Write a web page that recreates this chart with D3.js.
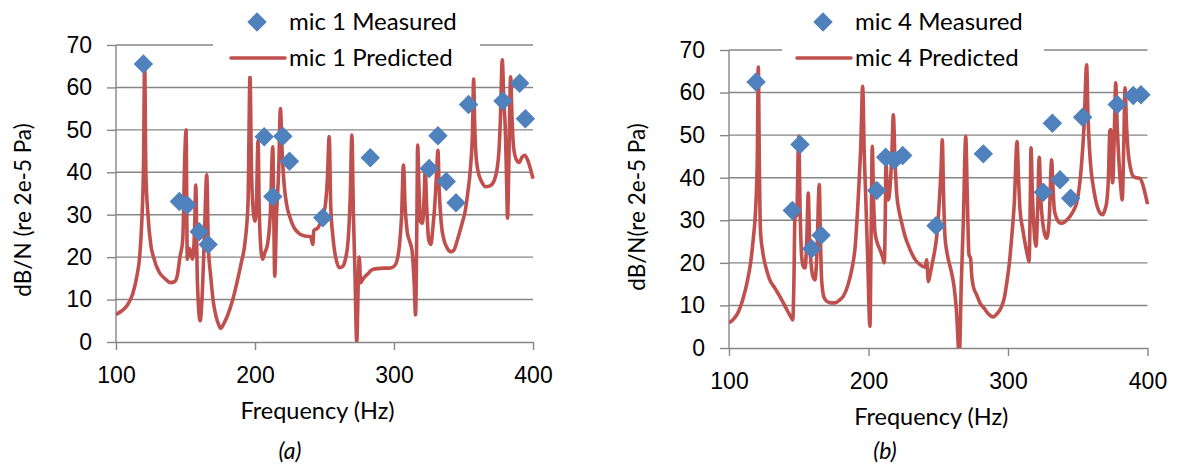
<!DOCTYPE html>
<html lang="en">
<head>
<meta charset="UTF-8">
<title>Mic measured vs predicted</title>
<script src="https://cdn.jsdelivr.net/npm/d3@7"></script>
<style>
    body { margin: 0; background: #fff; }
    svg { display: block; font-family: Lato, "Open Sans", sans-serif; }
    .grid line { stroke: #868686; stroke-width: 1.4px; }
    .axis path, .axis line { stroke: #868686; stroke-width: 1.4px; }
    .axis text { fill: #000; font-size: 23px; }
    .title { fill: #000; font-size: 23.5px; }
    .ytitle { fill: #000; font-size: 22.5px; }
    .legend text { fill: #000; font-size: 24px; }
    .caption { fill: #000; font-size: 23px; font-style: italic; }
</style>
</head>
<body>
<svg width="1178" height="467"></svg>
<script>
// frequency ticks and level ticks shared by both panels
var xTicks = [100, 200, 300, 400];
var yTicks = [0, 10, 20, 30, 40, 50, 60, 70];

// mic 1 predicted curve, [Hz, dB/N]
var mic1Predicted = [
    [100,6.5],[104,7.3],[108,8.6],[112,11.3],[115,15.5],[117,20],[118.5,28],[119.8,42],[120.6,66],[121.5,40],
    [123,30],[125,23],[127,20],[131,16.5],[135,15],[139,14],[142,14.2],[144,15.5],[146,20],[148,24],
    [149.6,45],[150.4,50],[151.3,19.5],[153,22],[155,19.5],[156.5,26],[157.4,37],[158.5,15],[160.5,5],[162,11],
    [163.5,24],[165.3,39.4],[166.5,22],[168,16],[170,9.5],[172,6],[174,4],[175.5,3.2],[177,4],[180,6],
    [184,10],[187,14],[190,18.5],[193,24],[195,33],[196.4,62.5],[197.5,40],[198.5,32],[200,28.5],[201,32],
    [202.2,47.5],[203,32],[204.5,21],[205.5,19.5],[207,21],[209,23],[211,30],[212.8,46],[213.5,30],[214.2,15.5],
    [215.5,30],[217,40],[218.3,55],[219.5,45],[221,37],[223,32],[225,29.5],[228,27],[232,25.5],[236,25],
    [240,24.8],[241.6,23],[242.3,26.3],[245,26.8],[248,29],[250.5,32],[252,38],[253.4,48.4],[254.5,32],[256,25],
    [258,20],[261,17.5],[263,17.8],[265,19.5],[267,24],[268.5,34],[269.7,48.8],[270.8,30],[271.8,18],[273.2,0],
    [274.3,14],[275,20],[276,14],[278,15],[281,16],[284,17],[288,17.3],[293,17.4],[297,17.4],[300,17.8],
    [302,19],[304,23],[305.5,30],[306.8,41.7],[308,32],[309.5,26],[311,24],[313,21.5],[314.5,14],[315.5,6.4],
    [316.5,30],[317,46.4],[318,36],[319,28.4],[320.5,28],[321.5,33],[322.5,40.5],[323.5,32],[325,24],[326.5,23],
    [328,27],[329.5,33],[330.8,41],[331.6,45.2],[332.5,36],[334,28],[336,24],[338,22.3],[341,21.3],[343,21.6],
    [346,24.5],[349,28],[351.3,31],[353,35],[355,41],[356.5,50],[357.3,62],[358,52],[359,44],[361,39.5],
    [363,37.8],[366,36.6],[369,36.8],[372,38],[374,40.5],[375.5,45],[376.5,52],[377.9,66.5],[379,57],[380.1,50],
    [381,38],[381.7,29.2],[382.5,40],[383.9,62.5],[385,52],[386,46],[388,43],[390,42.3],[392,43.5],[394,44],
    [396,43],[398,41],[400,38.5]
];

// mic 1 measured points
var mic1Measured = [
    [119.7,65.5],[145.6,33.1],[151.2,32.3],[159.8,26],[166.3,23],[206.6,48.4],[212.8,34.3],[220,48.5],
    [224.8,42.6],[248.8,29.3],[282.9,43.4],[325.3,40.9],[331.6,48.6],[337.6,37.8],[344.6,32.8],[353.6,56],
    [378.4,56.8],[390.4,61],[394.5,52.6]
];

// mic 4 predicted curve
var mic4Predicted = [
    [100,5.9],[103,6.7],[106,8],[110,11.5],[113,15.5],[115.5,20],[117.5,26],[119,32],[120.3,45],[121,66],
    [121.8,42],[122.5,28],[124,23],[126,19.5],[129,16.2],[133,14],[137,11.8],[141,9.3],[144,7.5],[145.7,6.6],
    [146.5,15],[147.3,31],[148.5,31],[150,49.7],[151,32],[152.1,21.5],[153.5,19],[154.5,18.8],[155.8,26],[156.8,36.4],
    [157.8,25],[158.8,20],[160,17],[161.6,16],[163,22],[164.7,38.4],[165.6,25],[166.4,16],[168,12],[170,11],
    [173,10.6],[176,10.6],[179,11.2],[182,12.2],[185,14.5],[188,18.4],[190.5,24],[192.7,35.6],[194.5,48],[195.8,61.5],
    [197,45],[198,35.6],[199.5,20],[201,5.1],[202,30],[202.7,47.4],[203.7,34],[204.7,27],[206.5,24.5],[208.2,23.1],
    [210,21.5],[211.3,20],[212,30],[212.5,43.8],[213.3,38],[214.2,34.8],[215.5,38],[216.8,46],[217.8,54.8],[219,44],
    [220.2,36.4],[222,32],[223.8,29.4],[226,26.5],[229.8,23.1],[233,21],[236.9,19.6],[240.5,19],[241.7,20.7],[242.9,15.6],
    [244,17],[245.3,19.2],[247,22],[248.9,26.2],[250.5,33],[252,42],[252.9,48.9],[253.8,36],[254.8,26.2],[256.5,22],
    [259.6,17.6],[261.5,14],[263,9],[265.1,-2],[266.5,15],[268,30],[269.7,49.7],[270.8,36],[272,22],[273.2,21],
    [274,17],[275.1,14.5],[277.5,12.5],[279.9,10.6],[283,9.3],[286,8],[289.5,7.3],[292,8],[295.5,9.8],[297.5,12],
    [299.1,15.3],[301,20],[302.7,26.2],[304.5,34],[306.5,48.5],[307.5,40],[308.6,32.5],[310.5,28],[312.2,24.7],[313.8,22],
    [315.1,20.3],[316,35],[316.5,47],[317.5,36],[318.7,27.8],[320.1,23.9],[321.2,32],[322.4,44.8],[323.5,35],[324.9,29.4],
    [326.5,26.5],[327.7,25.8],[329.5,30],[331.3,44.2],[332.2,38],[333.2,32.5],[334.8,30.5],[336.1,29.7],[338,29.3],[339.6,29.4],
    [342,30],[344.4,30.9],[347,32.3],[349.2,34.1],[351,37.5],[352.8,43.5],[354.5,52],[356.4,66.5],[357.3,55],[358.3,47.4],
    [359.8,41],[361.1,38],[363,34.5],[364.7,32.5],[366.5,31.5],[367.9,31.3],[369.5,32.5],[370.7,34.1],[372,40],[373,51],
    [373.6,51.3],[375,38.8],[376.2,50],[377.2,62.3],[378.3,52],[379.6,43.5],[380.8,38],[381.9,34.8],[383,48],[383.9,61.1],
    [385,52],[386.2,45.8],[388,42],[389.8,40.3],[392,40],[394.6,39.9],[396.5,38.5],[398.2,36.4],[400,33.8]
];

// mic 4 measured points
var mic4Measured = [
    [119.4,62.5],[145.4,32.3],[150.9,47.8],[159.3,23.3],[166,26.5],[205.9,37],[212.3,44.8],[218.5,44.1],
    [224.5,45.2],[248.4,28.7],[282.3,45.6],[325.3,36.6],[331.8,52.8],[337.3,39.5],[344.9,35.2],[353.5,54.2],
    [378.3,57.2],[389.8,59.3],[395.3,59.5]
];

var svg = d3.select("svg");

function drawPanel(opt) {
    var g = svg.append("g");
    var x = d3.scaleLinear().domain([100, 400]).range([opt.left, opt.right]);
    var y = d3.scaleLinear().domain([0, 70]).range([opt.bottom, opt.top]);

    // horizontal gridlines
    g.append("g").attr("class", "grid")
        .selectAll("line").data(yTicks.slice(1)).enter().append("line")
        .attr("x1", opt.left).attr("x2", opt.right)
        .attr("y1", function(d) { return y(d); }).attr("y2", function(d) { return y(d); });

    var yAxis = g.append("g").attr("class", "axis")
        .attr("transform", "translate(" + opt.left + ",0)")
        .call(d3.axisLeft(y).tickValues(yTicks).tickSize(9).tickSizeOuter(0).tickPadding(15));
    yAxis.select(".domain").attr("d", "M0," + opt.top + "V" + opt.bottom);

    g.append("g").attr("class", "axis")
        .attr("transform", "translate(0," + opt.bottom + ")")
        .call(d3.axisBottom(x).tickValues(xTicks).tickSize(8).tickSizeOuter(0).tickPadding(17));

    g.append("clipPath").attr("id", opt.id + "clip")
        .append("rect")
        .attr("x", opt.left).attr("y", opt.top - 20)
        .attr("width", opt.right - opt.left + 4).attr("height", opt.bottom - opt.top + 20);

    var line = d3.line()
        .x(function(d) { return x(d[0]); })
        .y(function(d) { return y(d[1]); })
        .curve(d3.curveMonotoneX);

    g.append("path")
        .datum(opt.predicted)
        .attr("clip-path", "url(#" + opt.id + "clip)")
        .attr("d", line)
        .attr("fill", "none")
        .attr("stroke", "#C0504D")
        .attr("stroke-width", 3.6)
        .attr("stroke-linejoin", "round");

    var diamond = d3.symbol().type(d3.symbolSquare).size(190);
    g.append("g").selectAll("path").data(opt.measured).enter().append("path")
        .attr("d", diamond)
        .attr("transform", function(d) { return "translate(" + x(d[0]) + "," + y(d[1]) + ") rotate(45)"; })
        .attr("fill", "#4F81BD");

    // legend with white background over the plot
    var lg = g.append("g").attr("class", "legend");
    lg.append("rect")
        .attr("x", opt.legendRect[0]).attr("y", 0)
        .attr("width", opt.legendRect[1] - opt.legendRect[0]).attr("height", 76)
        .attr("fill", "#fff");
    lg.append("path")
        .attr("d", diamond)
        .attr("transform", "translate(" + (opt.legendX - 32) + ",22) rotate(45)")
        .attr("fill", "#4F81BD");
    lg.append("text").attr("x", opt.legendX).attr("y", 30).text(opt.name + " Measured");
    lg.append("line")
        .attr("x1", opt.legendX - 58).attr("x2", opt.legendX - 4)
        .attr("y1", 58).attr("y2", 58)
        .attr("stroke", "#C0504D").attr("stroke-width", 3.6).attr("stroke-linecap", "round");
    lg.append("text").attr("x", opt.legendX).attr("y", 66).text(opt.name + " Predicted");

    var cx = (opt.left + opt.right) / 2;
    g.append("text").attr("class", "title")
        .attr("x", cx - 7).attr("y", opt.bottom + 77)
        .attr("text-anchor", "middle")
        .text("Frequency (Hz)");

    g.append("text").attr("class", "ytitle")
        .attr("transform", "translate(" + opt.yTitleX + "," + opt.yTitleY + ") rotate(-90)")
        .attr("text-anchor", "middle")
        .text(opt.yTitle);

    g.append("text").attr("class", "caption")
        .attr("x", opt.captionX).attr("y", 459)
        .attr("text-anchor", "middle")
        .text(opt.caption);
}

drawPanel({
    id: "a", name: "mic 1", caption: "(a)", captionX: 290,
    left: 116, right: 533, top: 45, bottom: 342,
    predicted: mic1Predicted, measured: mic1Measured,
    legendX: 289, legendRect: [213, 480],
    yTitle: "dB/N (re 2e-5 Pa)", yTitleX: 31, yTitleY: 210
});

drawPanel({
    id: "b", name: "mic 4", caption: "(b)", captionX: 885,
    left: 729, right: 1147.5, top: 50, bottom: 348,
    predicted: mic4Predicted, measured: mic4Measured,
    legendX: 855, legendRect: [782, 1044],
    yTitle: "dB/N(re 2e-5 Pa)", yTitleX: 645, yTitleY: 207
});
</script>
</body>
</html>
